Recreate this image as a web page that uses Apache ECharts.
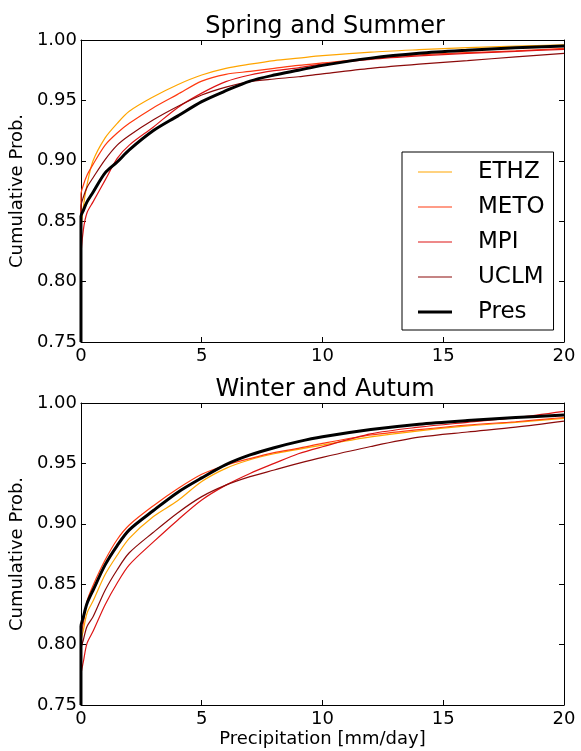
<!DOCTYPE html>
<html>
<head>
<meta charset="utf-8">
<script src="https://cdn.jsdelivr.net/npm/echarts@6/dist/echarts.min.js"></script>
<style>
html,body{margin:0;padding:0;background:#fff;}
#chart{width:581px;height:751px;}
</style>
</head>
<body>
<div id="chart"></div>
<script>
// ---- data ----
const xValues = [0, 0, 0.1, 0.25, 0.5, 1, 1.5, 2, 3, 4, 5, 6, 7, 8, 9, 10, 12, 14, 16, 18, 20];
const seriesNames = ['ETHZ', 'METO', 'MPI', 'UCLM', 'Pres'];
const titles = ['Spring and Summer', 'Winter and Autum'];
const xTicks = [0, 5, 10, 15, 20];
const yTicks = [0.75, 0.80, 0.85, 0.90, 0.95, 1.00];

// Spring and Summer
const springETHZ = [0.75, 0.840, 0.862, 0.880, 0.900, 0.919, 0.931, 0.941, 0.953, 0.963, 0.971, 0.9765, 0.980, 0.983, 0.985, 0.987, 0.990, 0.992, 0.9937, 0.995, 0.996];
const springMETO = [0.75, 0.872, 0.880, 0.888, 0.897, 0.913, 0.923, 0.931, 0.944, 0.955, 0.966, 0.9716, 0.974, 0.9765, 0.979, 0.981, 0.9848, 0.9876, 0.9895, 0.991, 0.993];
const springMPI  = [0.75, 0.819, 0.843, 0.857, 0.866, 0.884, 0.902, 0.913, 0.928, 0.944, 0.956, 0.9655, 0.971, 0.9746, 0.977, 0.980, 0.984, 0.9868, 0.989, 0.9906, 0.9923];
const springUCLM = [0.75, 0.862, 0.870, 0.878, 0.886, 0.901, 0.913, 0.921, 0.934, 0.945, 0.9545, 0.961, 0.9655, 0.9677, 0.9696, 0.972, 0.9765, 0.980, 0.983, 0.986, 0.989];
const springPres = [0.75, 0.854, 0.859, 0.866, 0.874, 0.890, 0.899, 0.909, 0.925, 0.937, 0.949, 0.958, 0.966, 0.971, 0.975, 0.979, 0.985, 0.989, 0.9915, 0.9935, 0.995];

// Winter and Autum
const winterETHZ = [0.75, 0.802, 0.812, 0.826, 0.836, 0.858, 0.874, 0.888, 0.906, 0.919, 0.935, 0.9459, 0.953, 0.958, 0.9616, 0.9652, 0.972, 0.977, 0.981, 0.984, 0.9873];
const winterMETO = [0.75, 0.807, 0.818, 0.836, 0.849, 0.870, 0.887, 0.899, 0.915, 0.929, 0.941, 0.9485, 0.954, 0.9589, 0.9625, 0.9666, 0.9735, 0.978, 0.9818, 0.9845, 0.988];
const winterMPI  = [0.75, 0.774, 0.786, 0.801, 0.811, 0.833, 0.851, 0.866, 0.885, 0.903, 0.9197, 0.932, 0.9417, 0.950, 0.958, 0.9638, 0.9745, 0.980, 0.984, 0.9878, 0.993];
const winterUCLM = [0.75, 0.796, 0.804, 0.815, 0.823, 0.845, 0.862, 0.876, 0.893, 0.909, 0.9225, 0.932, 0.939, 0.9445, 0.950, 0.955, 0.964, 0.9717, 0.976, 0.980, 0.985];
const winterPres = [0.75, 0.815, 0.823, 0.834, 0.845, 0.866, 0.882, 0.895, 0.911, 0.926, 0.938, 0.949, 0.957, 0.963, 0.968, 0.972, 0.978, 0.9825, 0.9855, 0.988, 0.990];

// ---- styling ----
const FONT = 'DejaVu Sans';
const colors = {ETHZ: '#FFA500', METO: '#FF3A10', MPI: '#DD1414', UCLM: '#8B0A0A', Pres: '#000000'};
const widths = {ETHZ: 1.2, METO: 1.2, MPI: 1.2, UCLM: 1.2, Pres: 3};
const thinIcon = 'path://M0,0M34,14M0,6.4L34,6.4L34,7.6L0,7.6Z';
const thickIcon = 'path://M0,0M34,14M0,5.5L34,5.5L34,8.5L0,8.5Z';

const chart = echarts.init(document.getElementById('chart'), null, {renderer: 'canvas'});

function pairs(arr) { return xValues.map((x, i) => [x, arr[i]]); }

const grids = [
  {left: 77, top: 40, width: 487, height: 302},
  {left: 77, top: 403, width: 487, height: 302}
];

function xAxisDef(gi, pos, labels, name) {
  return {
    type: 'value', gridIndex: gi, position: pos, min: xTicks[0], max: xTicks[xTicks.length - 1], interval: 5,
    axisLine: {show: true, onZero: false, lineStyle: {color: '#000', width: 1}},
    axisTick: {show: true, inside: true, length: 5, lineStyle: {color: '#000'}},
    axisLabel: {show: labels, color: '#000', fontSize: 18, fontFamily: FONT, margin: 5, showMinLabel: true, showMaxLabel: true},
    splitLine: {show: false},
    name: name || '', nameLocation: 'middle', nameGap: 25,
    nameTextStyle: {color: '#000', fontSize: 18, fontFamily: FONT}
  };
}
function yAxisDef(gi, pos, labels, name) {
  return {
    type: 'value', gridIndex: gi, position: pos, min: yTicks[0], max: yTicks[yTicks.length - 1], interval: 0.05,
    axisLine: {show: true, onZero: false, lineStyle: {color: '#000', width: 1}},
    axisTick: {show: true, inside: true, length: 5, lineStyle: {color: '#000'}},
    axisLabel: {show: labels, color: '#000', fontSize: 18, fontFamily: FONT, margin: 4, formatter: v => v.toFixed(2), showMinLabel: true, showMaxLabel: true},
    splitLine: {show: false},
    name: name || '', nameLocation: 'middle', nameGap: 46, nameRotate: 90,
    nameTextStyle: {color: '#000', fontSize: 18, fontFamily: FONT}
  };
}

const xAxes = [
  xAxisDef(0, 'bottom', true), xAxisDef(0, 'top', false),
  xAxisDef(1, 'bottom', true, 'Precipitation [mm/day]'), xAxisDef(1, 'top', false)
];
const yAxes = [
  yAxisDef(0, 'left', true, 'Cumulative Prob.'), yAxisDef(0, 'right', false),
  yAxisDef(1, 'left', true, 'Cumulative Prob.'), yAxisDef(1, 'right', false)
];

const dataSets = [
  {ETHZ: springETHZ, METO: springMETO, MPI: springMPI, UCLM: springUCLM, Pres: springPres},
  {ETHZ: winterETHZ, METO: winterMETO, MPI: winterMPI, UCLM: winterUCLM, Pres: winterPres}
];

const series = [];
dataSets.forEach((ds, gi) => {
  seriesNames.forEach(nm => {
    series.push({
      name: nm, type: 'line', xAxisIndex: gi * 2, yAxisIndex: gi * 2,
      data: pairs(ds[nm]), symbol: 'none', showSymbol: false, clip: true,
      smooth: 0.3,
      lineStyle: {color: colors[nm], width: widths[nm]}, itemStyle: {color: colors[nm]},
      z: nm === 'Pres' ? 5 : 3
    });
  });
});

chart.setOption({
  animation: false,
  backgroundColor: '#fff',
  title: [
    {text: titles[0], left: 320, top: 10, textAlign: 'center', textStyle: {fontSize: 24, fontWeight: 'normal', color: '#000', fontFamily: FONT}},
    {text: titles[1], left: 320, top: 373, textAlign: 'center', textStyle: {fontSize: 24, fontWeight: 'normal', color: '#000', fontFamily: FONT}}
  ],
  grid: grids,
  xAxis: xAxes,
  yAxis: yAxes,
  legend: {
    data: seriesNames.map(nm => ({name: nm, icon: nm === 'Pres' ? thickIcon : thinIcon})),
    orient: 'vertical', left: 402, top: 152,
    backgroundColor: '#fff', borderColor: '#000', borderWidth: 1, borderRadius: 0,
    padding: [8, 9, 6, 16], itemGap: 11, itemWidth: 34, itemHeight: 14,
    textStyle: {fontSize: 23, color: '#000', fontFamily: FONT, lineHeight: 24, padding: [0, 0, 0, 21]}
  },
  series: series
});
</script>
</body>
</html>
